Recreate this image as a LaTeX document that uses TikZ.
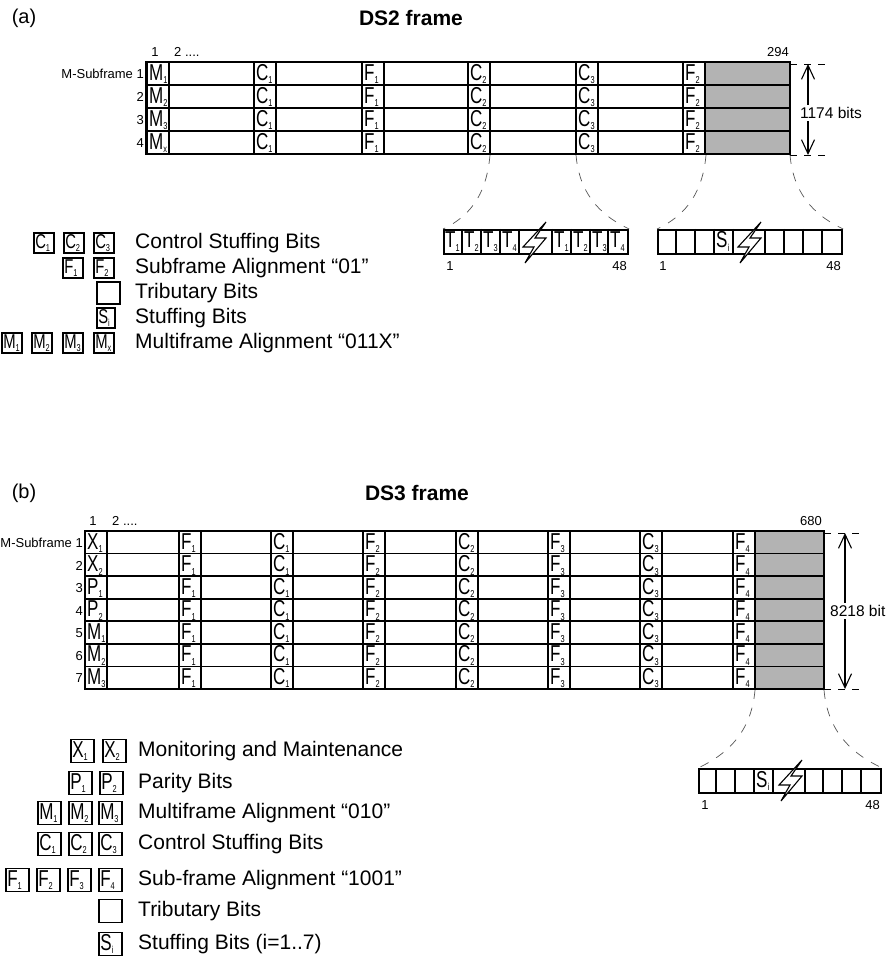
\documentclass[tikz,border=0pt]{standalone}
\usepackage{fontspec}
\setmainfont{Liberation Sans}
\usetikzlibrary{arrows.meta}
\definecolor{frameGray}{HTML}{B3B3B3}
\definecolor{linkGray}{HTML}{555555}
\newcommand{\bitsym}[2]{\scalebox{0.74}[1]{#1\raisebox{-0.15em}{\fontsize{10}{10}\selectfont#2}}}

\begin{document}
\begin{tikzpicture}[x=1pt,y=-1pt]
  \tikzset{
    frameline/.style={line width=2.6pt},
    gridline/.style={line width=1.8pt},
    cellbit/.style={anchor=base west,inner sep=0pt,font=\fontsize{23}{23}\selectfont},
    lbl/.style={inner sep=0pt,font=\fontsize{13}{16}\selectfont},
    ttl/.style={inner sep=0pt,font=\fontsize{20}{24}\selectfont},
    dimtxt/.style={fill=white,inner sep=2pt,font=\fontsize{15.5}{18}\selectfont},
    dimext/.style={line width=0.8pt,dash pattern=on 7pt off 7pt},
    dimarrow/.style={line width=1.1pt,<->,>={Straight Barb[length=14pt,width=13pt]}},
    linkdash/.style={line width=0.7pt,linkGray,dash pattern=on 9pt off 9pt},
    blk/.style={draw,line width=2.2pt,anchor=north west,minimum height=24pt,inner sep=0pt},
    keyA/.style={draw,line width=1.6pt,anchor=west,text width=17pt,minimum height=19pt,inner sep=1.5pt,align=left,font=\fontsize{20}{20}\selectfont},
    keyB/.style={keyA,text width=20pt,minimum height=23pt,font=\fontsize{23}{23}\selectfont},
    keytxt/.style={anchor=west,inner sep=0pt,font=\fontsize{21}{24}\selectfont},
    bolt/.pic={\draw[line width=1.1pt,fill=white] (24,0) -- (1,25) -- (12,25) -- (3,41) -- (24,16) -- (13,16) -- cycle;}
  }
  \useasboundingbox (0,0) rectangle (887,957);

  % (a) DS2 frame
  \node[ttl] (a-tag) at (24,18) {(a)};
  \node[ttl,font=\fontsize{21}{24}\selectfont\bfseries] (a-title) at (411,18) {DS2 frame};
  \fill[frameGray] (706,62) rectangle (790,154);
  \foreach \r in {1,2,3}
    \draw[gridline] (146,62+\r*23) -- (790,62+\r*23);
  \foreach \cx in {147,254,362,468,576,683}
    \draw[gridline] (\cx,62) -- (\cx,154) (\cx+22,62) -- (\cx+22,154);
  \draw[frameline] (146,62) rectangle (790,154);
  \foreach \sub [count=\r from 0] in {1,2,3,x}
    \node[cellbit] (a-M\sub) at (149,62+\r*23+18.5) {\bitsym{M}{\sub}};
  \foreach \cx/\ltr/\sub in {254/C/1,362/F/1,468/C/2,576/C/3,683/F/2}
    \foreach \r in {0,...,3}
      \node[cellbit] (a-\ltr\sub-\r) at (\cx+2,62+\r*23+18.5) {\bitsym{\ltr}{\sub}};
  \node[lbl,anchor=east] (a-row1) at (144,74) {M-Subframe 1};
  \foreach \r in {2,3,4}
    \node[lbl,anchor=east] (a-row\r) at (144,74+\r*23-23) {\r};
  \node[lbl] (a-col1) at (155,52) {1};
  \node[lbl,anchor=west] (a-col2) at (174,52) {2 ....};
  \node[lbl,anchor=east] (a-colN) at (789,52) {294};

  \coordinate (a-dimT) at (808,64);
  \coordinate (a-dimB) at (808,155);
  \draw[dimext] (790,64) -- (828,64) (790,155) -- (828,155);
  \draw[dimarrow] (a-dimT) -- (a-dimB);
  \node[dimtxt] (a-bits) at (831,113) {1174 bits};

  \coordinate (a-C2) at (490,155);
  \coordinate (a-C3) at (576,155);
  \coordinate (a-F2) at (706,155);
  \coordinate (a-end) at (790,155);

  \node[blk,minimum width=184pt] (a-tblk) at (443,229) {};
  \foreach \x in {462,481,500,519,552,571,590,608}
    \draw[gridline] (\x,229) -- (\x,253);
  \foreach \x/\sub in {443/1,462/2,481/3,500/4,552/1,571/2,590/3,608/4}
    \node[cellbit] (a-T\x) at (\x+2,248) {\bitsym{T}{\sub}};
  \pic at (522,222) {bolt};
  \node[lbl] (a-t1) at (450,266) {1};
  \node[lbl,anchor=east] (a-t48) at (627,266) {48};

  \node[blk,minimum width=184pt] (a-sblk) at (657,229) {};
  \foreach \x in {676,695,714,733,765,784,803,822}
    \draw[gridline] (\x,229) -- (\x,253);
  \node[cellbit] (a-Si) at (716,248) {\bitsym{S}{i}};
  \pic at (737,222) {bolt};
  \node[lbl] (a-s1) at (663,266) {1};
  \node[lbl,anchor=east] (a-s48) at (841,266) {48};

  \draw[linkdash] (a-C2) to[out=-95,in=25] (a-tblk.north west);
  \draw[linkdash] (a-C3) to[out=-85,in=155] (a-tblk.north east);
  \draw[linkdash] (a-F2) to[out=-95,in=25] (a-sblk.north west);
  \draw[linkdash] (a-end) to[out=-85,in=155] (a-sblk.north east);

  % (a) legend
  \foreach \x/\sub in {33/1,63/2,93/3}
    \node[keyA] (ka-C\sub) at (\x,243) {\bitsym{C}{\sub}};
  \node[keytxt] (ka-Ctxt) at (135,243) {Control Stuffing Bits};
  \foreach \x/\sub in {62/1,93/2}
    \node[keyA] (ka-F\sub) at (\x,268) {\bitsym{F}{\sub}};
  \node[keytxt] (ka-Ftxt) at (135,268) {Subframe Alignment “01”};
  \node[keyA,text width=20pt,minimum height=22pt] (ka-T) at (96,293) {};
  \node[keytxt] (ka-Ttxt) at (135,293) {Tributary Bits};
  \node[keyA,text width=15pt] (ka-S) at (96,318) {\bitsym{S}{i}};
  \node[keytxt] (ka-Stxt) at (135,318) {Stuffing Bits};
  \foreach \x/\sub in {1/1,31/2,62/3,93/x}
    \node[keyA] (ka-M\sub) at (\x,343) {\bitsym{M}{\sub}};
  \node[keytxt] (ka-Mtxt) at (135,343) {Multiframe Alignment “011X”};

  % (b) DS3 frame
  \node[ttl] (b-tag) at (24,493) {(b)};
  \node[ttl,font=\fontsize{21}{24}\selectfont\bfseries] (b-title) at (417,493) {DS3 frame};
  \fill[frameGray] (755,531) rectangle (824,689);
  \foreach \r in {1,...,6}
    \draw[gridline] (85,531+\r*22.57) -- (824,531+\r*22.57);
  \foreach \cx in {85,179,271,363,456,548,640,733}
    \draw[gridline] (\cx,531) -- (\cx,689) (\cx+22,531) -- (\cx+22,689);
  \draw[frameline] (85,531) rectangle (824,689);
  \foreach \ltr/\sub [count=\r from 0] in {X/1,X/2,P/1,P/2,M/1,M/2,M/3}
    \node[cellbit] (b-\ltr\sub) at (87,531+\r*22.57+18) {\bitsym{\ltr}{\sub}};
  \foreach \cx/\ltr/\sub in {179/F/1,271/C/1,363/F/2,456/C/2,548/F/3,640/C/3,733/F/4}
    \foreach \r in {0,...,6}
      \node[cellbit] (b-\ltr\sub-\r) at (\cx+2,531+\r*22.57+18) {\bitsym{\ltr}{\sub}};
  \node[lbl,anchor=east] (b-row1) at (83,543) {M-Subframe 1};
  \foreach \r in {2,...,7}
    \node[lbl,anchor=east] (b-row\r) at (83,543+\r*22.57-22.57) {\r};
  \node[lbl] (b-col1) at (93,521) {1};
  \node[lbl,anchor=west] (b-col2) at (112,521) {2 ....};
  \node[lbl,anchor=east] (b-colN) at (822,521) {680};

  \coordinate (b-dimT) at (845,533);
  \coordinate (b-dimB) at (845,689);
  \draw[dimext] (824,533) -- (866,533) (824,689) -- (866,689);
  \draw[dimarrow] (b-dimT) -- (b-dimB);
  \node[dimtxt,anchor=west] (b-bits) at (828,611) {8218 bit};

  \coordinate (b-F4) at (755,690);
  \coordinate (b-end) at (824,690);
  \node[blk,minimum width=182pt] (b-sblk) at (698,768) {};
  \foreach \x in {716,735,754,773,805,823,842,861}
    \draw[gridline] (\x,768) -- (\x,792);
  \node[cellbit] (b-Si) at (756,787) {\bitsym{S}{i}};
  \pic at (778,760) {bolt};
  \node[lbl] (b-s1) at (705,805) {1};
  \node[lbl,anchor=east] (b-s48) at (880,805) {48};

  \draw[linkdash] (b-F4) to[out=-95,in=25] (b-sblk.north west);
  \draw[linkdash] (b-end) to[out=-85,in=155] (b-sblk.north east);

  % (b) legend
  \foreach \x/\sub in {70/1,102/2}
    \node[keyB] (kb-X\sub) at (\x,751) {\bitsym{X}{\sub}};
  \node[keytxt] (kb-Xtxt) at (138,751) {Monitoring and Maintenance};
  \foreach \x/\sub in {68/1,99/2}
    \node[keyB] (kb-P\sub) at (\x,783) {\bitsym{P}{\sub}};
  \node[keytxt] (kb-Ptxt) at (138,783) {Parity Bits};
  \foreach \x/\sub in {37/1,68/2,98/3}
    \node[keyB] (kb-M\sub) at (\x,813) {\bitsym{M}{\sub}};
  \node[keytxt] (kb-Mtxt) at (138,813) {Multiframe Alignment “010”};
  \foreach \x/\sub in {37/1,68/2,98/3}
    \node[keyB] (kb-C\sub) at (\x,844) {\bitsym{C}{\sub}};
  \node[keytxt] (kb-Ctxt) at (138,844) {Control Stuffing Bits};
  \foreach \x/\sub in {5/1,36/2,67/3,98/4}
    \node[keyB] (kb-F\sub) at (\x,880) {\bitsym{F}{\sub}};
  \node[keytxt] (kb-Ftxt) at (138,880) {Sub-frame Alignment “1001”};
  \node[keyB] (kb-T) at (98,911) {};
  \node[keytxt] (kb-Ttxt) at (138,911) {Tributary Bits};
  \node[keyB] (kb-S) at (98,944) {\bitsym{S}{i}};
  \node[keytxt] (kb-Stxt) at (138,944) {Stuffing Bits (i=1..7)};
\end{tikzpicture}
\end{document}
